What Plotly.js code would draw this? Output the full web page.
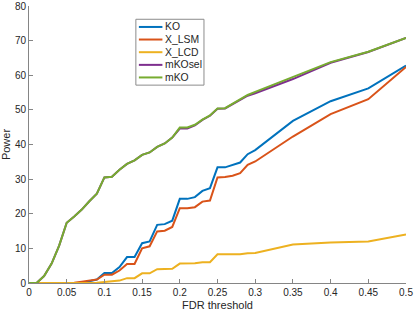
<!DOCTYPE html>
<html>
<head>
<meta charset="utf-8">
<script src="https://cdn.plot.ly/plotly-3.0.1.min.js"></script>
<style>html,body{margin:0;padding:0;background:#fff;}#chart{width:415px;height:312px;}</style>
</head>
<body>
<div id="chart"></div>
<script>
const fdr = [0,0.01,0.02,0.03,0.04,0.05,0.06,0.07,0.08,0.09,0.1,0.11,0.12,0.13,0.14,0.15,0.16,0.17,0.18,0.19,0.2,0.21,0.22,0.23,0.24,0.25,0.26,0.27,0.28,0.29,0.3,0.35,0.4,0.45,0.5];
const KO     = [0,0,0,0,0,0,0,0,0.5,1.0,2.9,2.9,4.6,7.5,7.5,11.5,12.0,16.8,17.0,18.0,24.3,24.3,24.8,26.6,27.4,33.4,33.4,34.0,34.8,37.2,38.4,46.8,52.5,56.2,62.8];
const X_LSM  = [0,0,0,0,0,0,0.1,0.4,0.8,1.0,2.4,2.4,3.6,5.5,5.5,10.0,10.6,14.9,15.1,16.2,21.6,21.6,21.9,23.5,23.8,30.5,30.6,31.0,31.7,34.1,35.1,42.3,48.8,53.1,62.4];
const X_LCD  = [0,0,0,0,0,0,0,0,0,0.1,0.3,0.5,0.7,1.4,1.4,2.8,2.8,4.0,4.0,4.1,5.6,5.6,5.7,6.0,6.0,8.3,8.3,8.3,8.3,8.6,8.7,11.1,11.7,12.0,14.0];
const mKOsel = [0,0,2.0,5.6,10.8,17.4,19.2,21.2,23.6,25.8,30.5,30.7,32.7,34.4,35.4,37.0,37.7,39.3,40.3,42.0,44.6,44.6,45.5,47.1,48.3,50.3,50.4,51.7,52.9,54.1,54.8,58.9,63.6,66.7,70.8];
const mKO    = [0,0,2.0,5.6,10.8,17.4,19.2,21.2,23.6,25.8,30.5,30.7,32.7,34.4,35.4,37.0,37.7,39.3,40.3,42.0,44.9,44.9,45.7,47.2,48.4,50.4,50.5,51.8,53.0,54.3,55.2,59.4,63.8,66.8,70.8];

const seriesNames = ['KO','X_LSM','X_LCD','mKOsel','mKO'];
const seriesData = [KO, X_LSM, X_LCD, mKOsel, mKO];
const colors = ['#0072BD','#D95319','#EDB120','#7E2F8E','#77AC30'];
const xTicks = [0,0.05,0.1,0.15,0.2,0.25,0.3,0.35,0.4,0.45,0.5];
const yTicks = [0,10,20,30,40,50,60,70,80];

const W = 415, H = 312;
const M = {l:29.3, r:9.3, t:5.7, b:28.7};
const pw = W - M.l - M.r, ph = H - M.t - M.b;
const px2x = p => (p - M.l)/pw;
const py2y = p => (H - M.b - p)/ph;

const FONT = 'Liberation Sans, Arial, Helvetica, sans-serif';
const TXT = '#262626';
const AX = '#858585';

const traces = seriesNames.map((n,i) => ({
  x: fdr, y: seriesData[i], name: n, type: 'scatter', mode: 'lines',
  line: {color: colors[i], width: 2}, showlegend: false
}));

// custom MATLAB-style legend
const shapes = [{
  type:'rect', xref:'paper', yref:'paper',
  x0: px2x(136), x1: px2x(204), y0: py2y(85), y1: py2y(19),
  line:{color:'#8c8c8c', width:1}, fillcolor:'#ffffff', layer:'above'
}];
const annotations = [];
const rowY = [26.7, 39.3, 52.0, 64.7, 77.3];
seriesNames.forEach((n,i) => {
  shapes.push({type:'line', xref:'paper', yref:'paper',
    x0: px2x(139), x1: px2x(162.5), y0: py2y(rowY[i]), y1: py2y(rowY[i]),
    line:{color: colors[i], width:2}, layer:'above'});
  annotations.push({xref:'paper', yref:'paper', x: px2x(163.5), y: py2y(rowY[i]),
    xanchor:'left', yanchor:'middle', text: n, showarrow:false,
    font:{family: FONT, size: 10.4, color: TXT}});
});

const layout = {
  width: W, height: H,
  margin: {l: M.l, r: M.r, t: M.t, b: M.b, pad: 0},
  paper_bgcolor: '#fff', plot_bgcolor: '#fff',
  font: {family: FONT, size: 10, color: TXT},
  xaxis: {
    range: [0, 0.5], tickvals: xTicks, ticktext: xTicks.map(String),
    ticks: 'inside', ticklen: 4, tickwidth: 1, tickcolor: AX,
    showline: true, linecolor: AX, linewidth: 1, mirror: false,
    showgrid: false, zeroline: false, automargin: false,
    tickfont: {family: FONT, size: 10, color: TXT},
    title: {text: 'FDR threshold', font: {family: FONT, size: 11, color: TXT}, standoff: 4}
  },
  yaxis: {
    range: [0, 80], tickvals: yTicks, ticktext: yTicks.map(String),
    ticks: 'inside', ticklen: 4, tickwidth: 1, tickcolor: AX,
    showline: true, linecolor: AX, linewidth: 1, mirror: false,
    showgrid: false, zeroline: false, automargin: false,
    tickfont: {family: FONT, size: 10, color: TXT},
    title: {text: 'Power', font: {family: FONT, size: 11, color: TXT}, standoff: 4}
  },
  shapes: shapes,
  annotations: annotations,
  showlegend: false
};

Plotly.newPlot('chart', traces, layout, {displayModeBar: false, staticPlot: true});
</script>
</body>
</html>
